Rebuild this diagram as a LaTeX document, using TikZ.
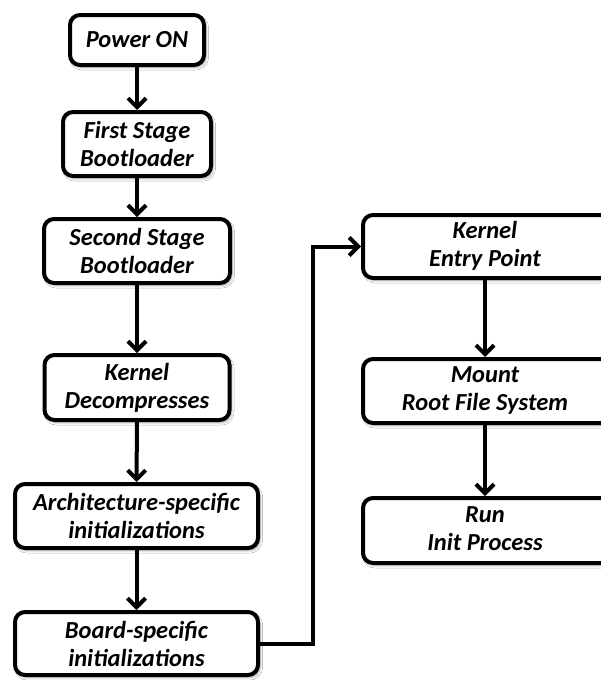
\documentclass[tikz,border=0pt]{standalone}
\usepackage{fontspec}
\setmainfont{Carlito}
\usetikzlibrary{arrows.meta,shadows.blur}
\newcommand{\twolines}[2]{\begin{tabular}{@{}c@{}}#1\\#2\end{tabular}}
\begin{document}
\begin{tikzpicture}[x=1pt,y=-1pt,
  stage/.style={draw=black, line width=4pt, rounded corners=10pt, fill=white,
    align=center, inner sep=0pt,
    font=\fontsize{24.5}{28}\selectfont\bfseries\itshape,
    blur shadow={shadow xshift=2pt, shadow yshift=-2.5pt, shadow blur radius=2.5pt, shadow opacity=35}},
  % right-hand boxes run on past the page edge; their text stays centred at x=485
  widestage/.style={stage, align=none, minimum width=272pt, anchor=west},
  flow/.style={line width=4pt, -{Straight Barb[length=9pt,width=18pt,line width=4pt]}}]
\useasboundingbox (0,0) rectangle (601,680);
\clip (0,0) rectangle (601,680);
\fill[white] (0,0) rectangle (601,680);

% left column
\node[stage, minimum width=134pt, minimum height=50pt] (power) at (137,40) {Power ON};
\node[stage, minimum width=148pt, minimum height=64pt] (first) at (137,144) {First Stage\\Bootloader};
\node[stage, minimum width=186pt, minimum height=64pt] (second) at (137,251) {Second Stage\\Bootloader};
\node[stage, minimum width=185pt, minimum height=65pt] (kdec) at (137,387.5) {Kernel\\Decompresses};
\node[stage, minimum width=243pt, minimum height=64pt] (arch) at (136.5,516) {Architecture-specific\\initializations};
\node[stage, minimum width=243pt, minimum height=63pt] (board) at (136.5,643.5) {Board-specific\\initializations};

% right column: a blank rule after the text pushes it left of the box centre
\node[widestage, minimum height=63pt] (kep) at (361,246.5)
  {\twolines{Kernel}{Entry Point}\rule{28pt}{0pt}};
\node[widestage, minimum height=64pt] (mount) at (361,391)
  {\twolines{Mount}{Root File System}\rule{28pt}{0pt}};
\node[widestage, minimum height=65pt] (run) at (361,530.5)
  {\twolines{Run}{Init Process}\rule{28pt}{0pt}};

\coordinate (bend) at (313,0);
\coordinate (rcol) at (485,0);

\draw[flow] (power) -- (first);
\draw[flow] (first) -- (second);
\draw[flow] (second) -- (kdec);
\draw[flow] (kdec) -- (arch);
\draw[flow] (arch) -- (board);
\draw[flow] (board.east) -- (bend |- board.east) -- (bend |- kep.west) -- (kep.west);
\draw[flow] (rcol |- kep.south) -- (rcol |- mount.north);
\draw[flow] (rcol |- mount.south) -- (rcol |- run.north);
\end{tikzpicture}
\end{document}
